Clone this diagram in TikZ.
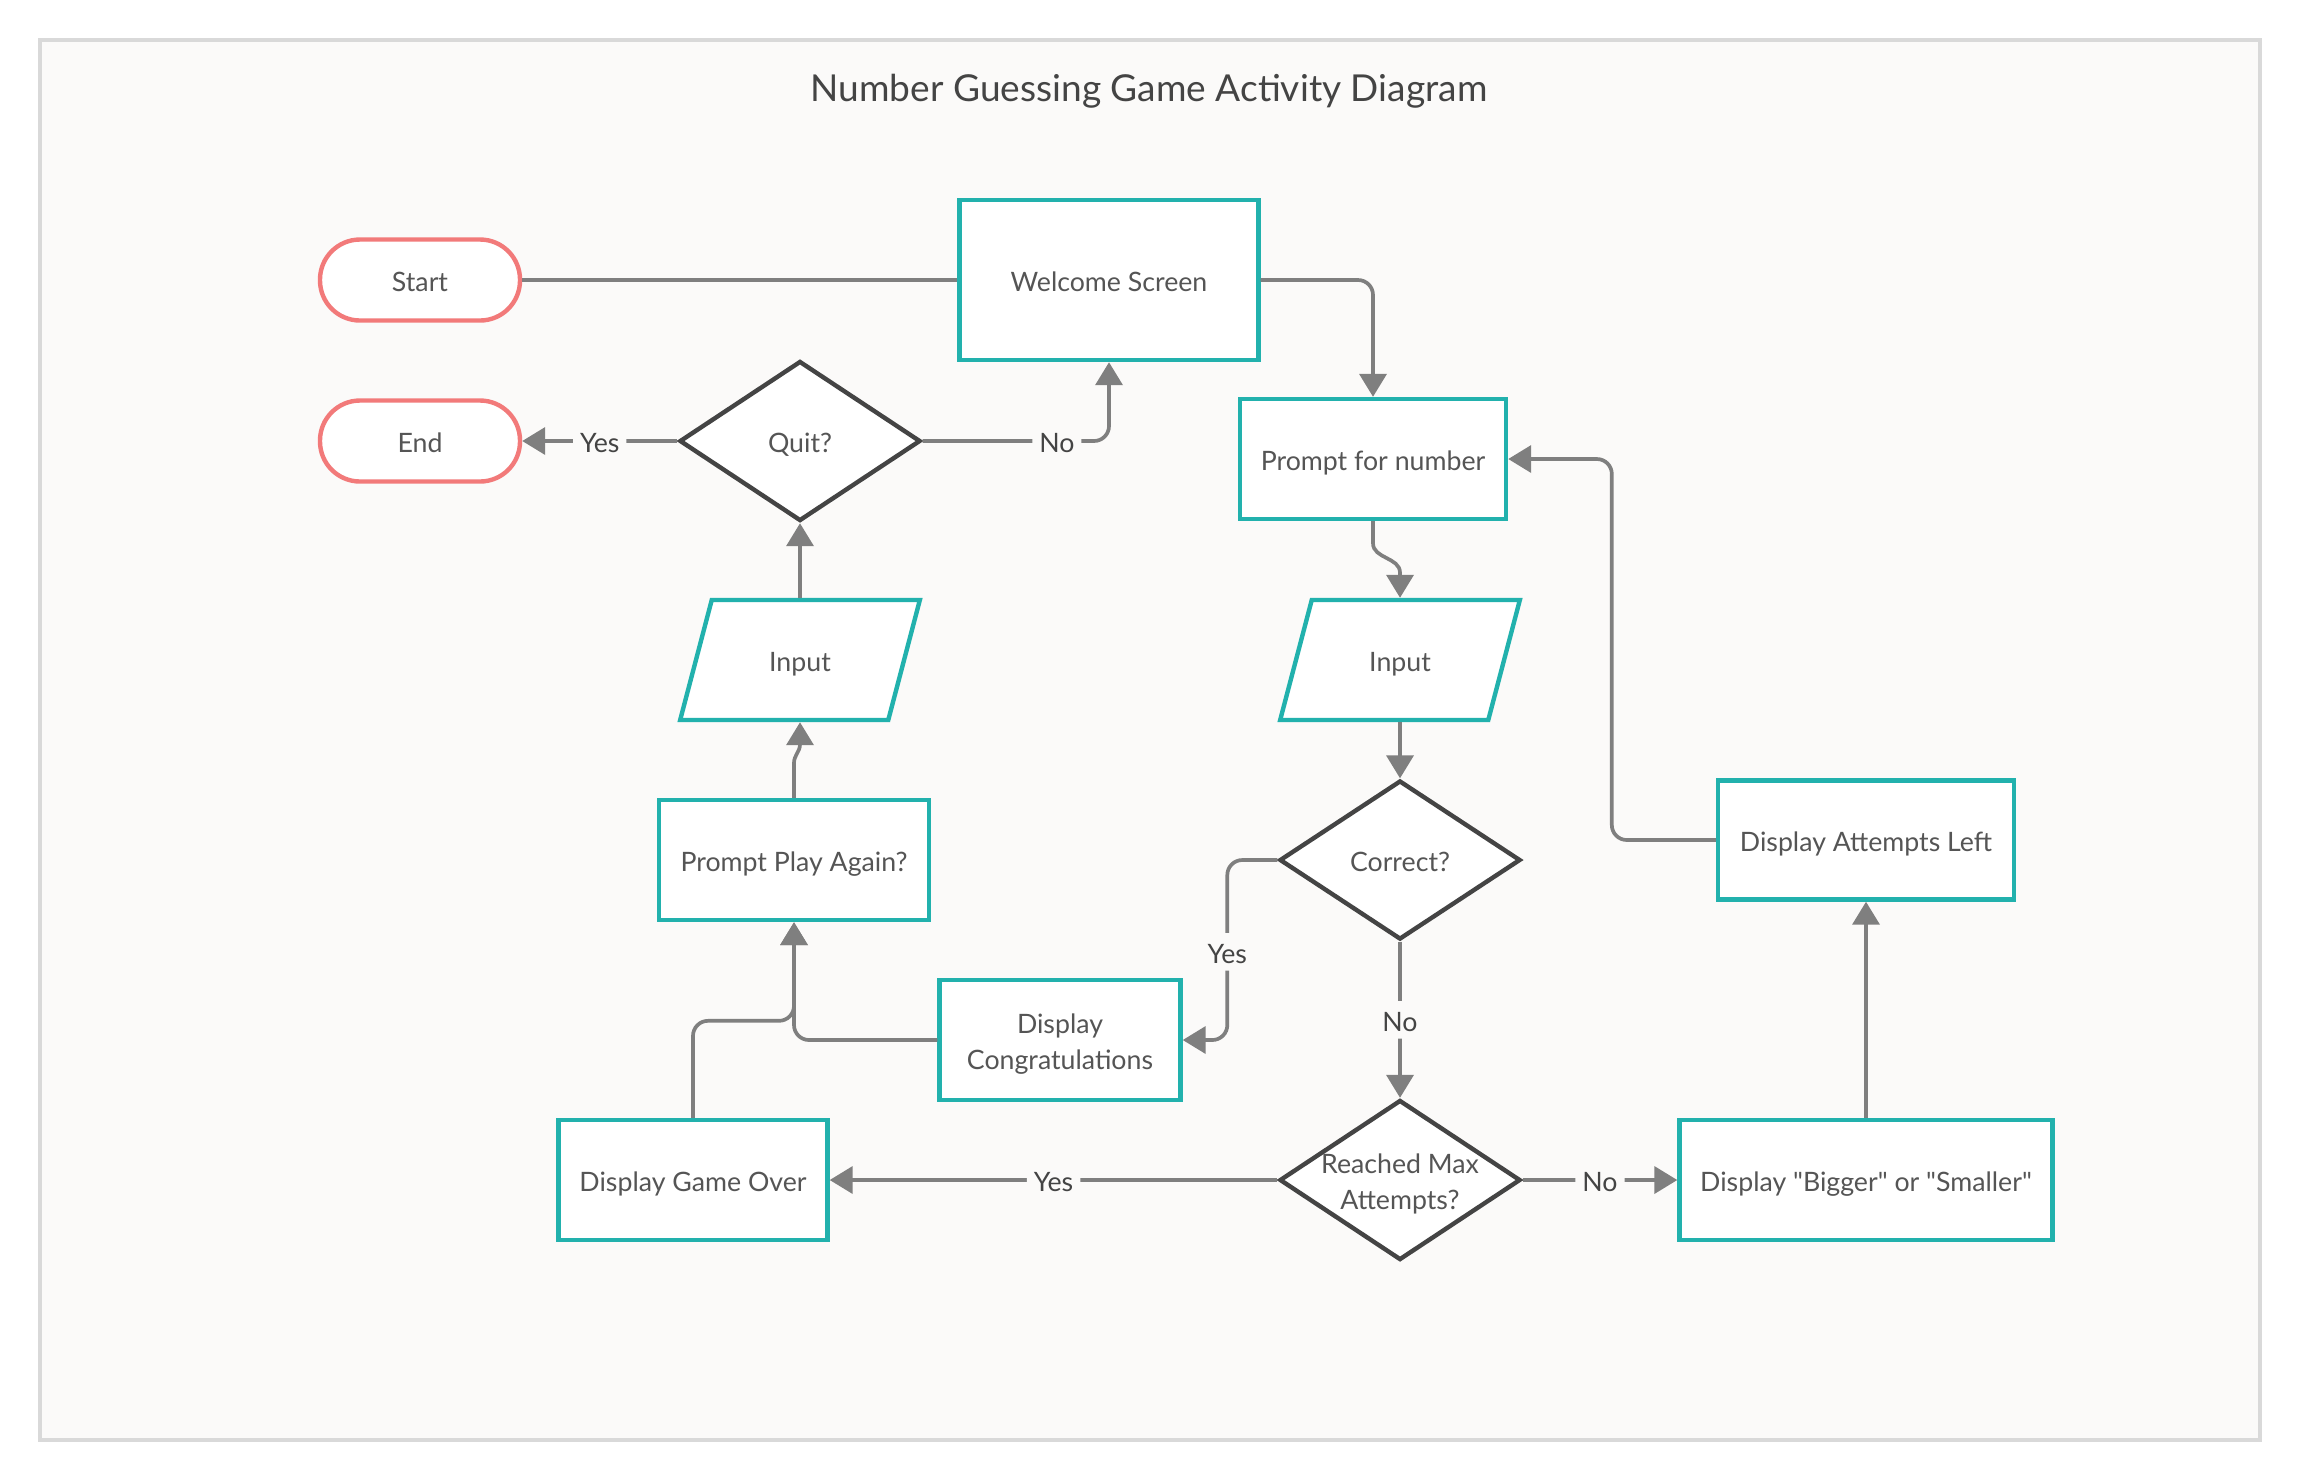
\documentclass[tikz,border=0pt]{standalone}
\usepackage{fontspec}
\setmainfont{Lato}
\usepackage{tikz}
\usetikzlibrary{positioning,arrows.meta,calc,shapes.geometric}

\definecolor{boxteal}{HTML}{22B1AD}
\definecolor{termred}{HTML}{F27A7A}
\definecolor{diagray}{HTML}{444444}
\definecolor{linegray}{HTML}{7F7F7F}
\definecolor{txtgray}{HTML}{555555}
\definecolor{framegray}{HTML}{D9D9D9}
\definecolor{paper}{HTML}{FBFAF9}

\begin{document}
\begin{tikzpicture}[>={Triangle[length=0.23cm,width=0.27cm]},
  every node/.style={font=\fontsize{7.6}{10.2}\selectfont, text=txtgray, align=center,
        text height=0.234cm, text depth=0pt},
  twolines/.style={text height=0.58cm},
  box/.style={draw=boxteal, line width=1.25pt, fill=white, minimum height=1.2cm},
  terminal/.style={draw=termred, line width=1.25pt, fill=white, rounded corners=0.4cm,
        minimum width=2.0cm, minimum height=0.81cm},
  decision/.style={draw=diagray, line width=1.25pt, fill=white, diamond, inner sep=0pt,
        minimum width=2.41cm, minimum height=1.6cm},
  inout/.style={draw=boxteal, line width=1.25pt, fill=white, trapezium,
        trapezium left angle=72, trapezium right angle=108, trapezium stretches=true,
        minimum width=2.4cm, minimum height=1.2cm},
  flow/.style={draw=linegray, line width=1.05pt, rounded corners=0.15cm},
  lbl/.style={fill=paper, inner sep=2pt, text=diagray}]

  \useasboundingbox (0,0) rectangle (23.01,-14.80);
  \draw[framegray, line width=1.1pt, fill=paper] (0.40,-0.40) rectangle (22.60,-14.40);

  \node[font=\fontsize{10.55}{12}\selectfont, text=diagray, text height=0.3cm] (title) at (11.49,-0.86)
        {Number Guessing Game Activity Diagram};

  % nodes
  \node[terminal] (start) at (4.20,-2.80) {Start};
  \node[terminal] (ende) at (4.20,-4.41) {End};
  \node[box, minimum width=2.99cm, minimum height=1.6cm] (welcome) at (11.09,-2.80) {Welcome Screen};
  \node[box, minimum width=2.66cm] (prompt) at (13.73,-4.59) {Prompt for number};
  \node[decision] (quit) at (8.00,-4.41) {Quit?};
  \node[inout] (inL) at (8.00,-6.60) {Input};
  \node[inout] (inR) at (14.00,-6.60) {Input};
  \node[box, minimum width=2.70cm] (again) at (7.94,-8.60) {Prompt Play Again?};
  \node[decision, minimum height=1.59cm] (correct) at (14.00,-8.60) {Correct?};
  \node[box, minimum width=2.96cm, minimum height=1.19cm] (left) at (18.66,-8.40) {Display Attempts Left};
  \node[box, twolines, minimum width=2.41cm] (congrats) at (10.60,-10.40) {Display\\Congratulations};
  \node[box, minimum width=2.69cm] (over) at (6.93,-11.80) {Display Game Over};
  \node[decision, twolines] (maxed) at (14.00,-11.80) {\makebox[0pt]{Reached Max}\\\makebox[0pt]{Attempts?}};
  \node[box, minimum width=3.73cm] (bigger) at (18.66,-11.80)
        {Display \textquotedbl Bigger\textquotedbl{} or \textquotedbl Smaller\textquotedbl};

  % connectors
  \draw[flow] (start) -- (welcome);
  \draw[flow, ->] (welcome.east) -| (prompt.north);
  \draw[flow, ->] (quit.east) -| node[lbl, pos=0.36] {No} (welcome.south);
  \draw[flow, ->] (quit.west) -- node[lbl] {Yes} (ende.east);
  \draw[flow, ->] (inL.north) -- (quit.south);
  \draw[flow, sharp corners, ->] (again.north) -- ++(0,0.35) to[out=90,in=-90] ($(inL.south)+(0,-0.22)$) -- (inL.south);
  \draw[flow, sharp corners, ->] (prompt.south) -- ++(0,-0.22) to[out=-90,in=90] ($(inR.north)+(0,0.25)$) -- (inR.north);
  \draw[flow, ->] (inR.south) -- (correct.north);
  \draw[flow, ->] (correct.west) -- ++(-0.50,0) |- node[lbl, pos=0.255] {Yes} (congrats.east);
  \draw[flow, ->] (correct.south) -- node[lbl] {No} (maxed.north);
  \draw[flow, ->] (maxed.west) -- node[lbl] {Yes} (over.east);
  \draw[flow, ->] (maxed.east) -- node[lbl] {No} (bigger.west);
  \draw[flow, ->] (bigger.north) -- (left.south);
  \draw[flow, ->] (left.west) -- ++(-1.04,0) |- (prompt.east);
  \draw[flow, ->] (congrats.west) -| (again.south);
  \draw[flow, ->] (over.north) -- ++(0,0.97) -| (again.south);
\end{tikzpicture}
\end{document}
